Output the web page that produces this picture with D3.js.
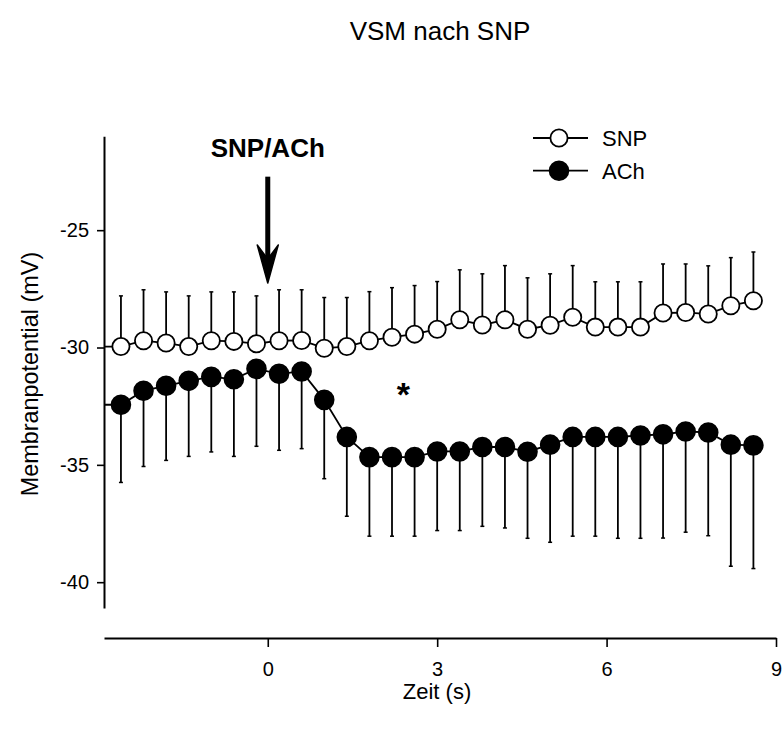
<!DOCTYPE html>
<html>
<head>
<meta charset="utf-8">
<script src="https://cdn.jsdelivr.net/npm/d3@7/dist/d3.min.js"></script>
<style>
  html, body { margin: 0; padding: 0; background: #fff; }
  svg { display: block; font-family: "Liberation Sans", Arial, sans-serif; }
</style>
</head>
<body>
<svg id="chart" width="782" height="729"></svg>
<script>
// Time points (s)
const zeit = [-2.6, -2.2, -1.8, -1.4, -1.0, -0.6, -0.2, 0.2, 0.6, 1.0, 1.4, 1.8, 2.2, 2.6, 3.0,
              3.4, 3.8, 4.2, 4.6, 5.0, 5.4, 5.8, 6.2, 6.6, 7.0, 7.4, 7.8, 8.2, 8.6];

// SNP: mean membrane potential (mV) and upper error limit
const snpMean = [-29.96, -29.71, -29.81, -29.96, -29.71, -29.74, -29.84, -29.71, -29.70, -30.03,
                 -29.96, -29.71, -29.56, -29.43, -29.22, -28.82, -29.04, -28.82, -29.22, -29.05,
                 -28.71, -29.13, -29.13, -29.13, -28.53, -28.51, -28.57, -28.22, -28.01];
const snpUpper = [-27.80, -27.54, -27.63, -27.80, -27.63, -27.63, -27.80, -27.54, -27.54, -27.87,
                  -27.87, -27.62, -27.45, -27.36, -27.19, -26.69, -26.86, -26.51, -27.03, -26.86,
                  -26.51, -27.20, -27.20, -27.20, -26.44, -26.44, -26.52, -26.17, -25.93];

// ACh: mean membrane potential (mV) and lower error limit
const achMean = [-32.44, -31.84, -31.63, -31.42, -31.25, -31.35, -30.91, -31.12, -31.02, -32.23,
                 -33.81, -34.67, -34.67, -34.67, -34.43, -34.43, -34.24, -34.24, -34.44, -34.14,
                 -33.81, -33.81, -33.81, -33.75, -33.70, -33.58, -33.62, -34.14, -34.17];
const achLower = [-35.75, -35.07, -34.81, -34.64, -34.45, -34.64, -34.21, -34.38, -34.31, -35.59,
                  -37.19, -38.04, -38.04, -38.04, -37.80, -37.80, -37.62, -37.69, -38.13, -38.30,
                  -38.04, -38.04, -38.13, -38.13, -38.12, -37.87, -38.02, -39.32, -39.42];

const xTicks = [0, 3, 6, 9];
const yTicks = [-25, -30, -35, -40];
const seriesNames = ["SNP", "ACh"];

const svg = d3.select("#chart");

const x = d3.scaleLinear().domain([-2.9, 9]).range([104, 776]);
const y = d3.scaleLinear().domain([-41.1, -21]).range([608, 136.3]);
const xAxisY = 638;

// Axes
const yAxis = svg.append("g")
  .attr("transform", `translate(${x.range()[0]},0)`)
  .call(d3.axisLeft(y).tickValues(yTicks).tickFormat(d => String(d))
    .tickSize(7).tickSizeOuter(0).tickPadding(8));
const xAxis = svg.append("g")
  .attr("transform", `translate(0,${xAxisY})`)
  .call(d3.axisBottom(x).tickValues(xTicks).tickFormat(d => String(d))
    .tickSize(9).tickSizeOuter(0).tickPadding(15));

[yAxis, xAxis].forEach(g => {
  g.select(".domain").attr("stroke", "#000").attr("stroke-width", 2);
  g.selectAll(".tick line").attr("stroke", "#000").attr("stroke-width", 1.6);
  g.selectAll(".tick text").attr("fill", "#000").style("font-size", "20px")
    .style("font-family", "'Liberation Sans', Arial, sans-serif");
});

// Titles
svg.append("text").attr("x", 440).attr("y", 40).attr("text-anchor", "middle")
  .style("font-size", "26px").text("VSM nach SNP");
svg.append("text").attr("x", 437).attr("y", 699).attr("text-anchor", "middle")
  .style("font-size", "22px").text("Zeit (s)");
svg.append("text").attr("transform", `translate(38,${374}) rotate(-90)`)
  .attr("text-anchor", "middle").style("font-size", "23.4px").text("Membranpotential (mV)");

const plot = svg.append("g");

const snp = zeit.map((t, i) => ({ t, m: snpMean[i], e: snpUpper[i] }));
const ach = zeit.map((t, i) => ({ t, m: achMean[i], e: achLower[i] }));

const line = d3.line().x(d => x(d.t)).y(d => y(d.m));

function drawSeries(data, filled, r) {
  const g = plot.append("g");
  // connecting line, starting at the left edge of the axis
  const lineData = [{ t: x.domain()[0], m: data[0].m }].concat(data);
  g.append("path").datum(lineData).attr("d", line)
    .attr("fill", "none").attr("stroke", "#000").attr("stroke-width", 1.8);
  // one-sided error bars
  g.selectAll("line.err").data(data).enter().append("line")
    .attr("x1", d => x(d.t)).attr("x2", d => x(d.t))
    .attr("y1", d => y(d.m)).attr("y2", d => y(d.e))
    .attr("stroke", "#000").attr("stroke-width", 1.8);
  g.selectAll("line.cap").data(data).enter().append("line")
    .attr("x1", d => x(d.t) - 2).attr("x2", d => x(d.t) + 2)
    .attr("y1", d => y(d.e)).attr("y2", d => y(d.e))
    .attr("stroke", "#000").attr("stroke-width", 1.5);
  g.selectAll("circle").data(data).enter().append("circle")
    .attr("cx", d => x(d.t)).attr("cy", d => y(d.m)).attr("r", r)
    .attr("fill", filled ? "#000" : "#fff").attr("stroke", "#000").attr("stroke-width", 1.8);
}

drawSeries(snp, false, 8.6);
drawSeries(ach, true, 9.4);

// Stimulus arrow at t = 0
const ax = x(0), aTop = y(-22.72), aTip = y(-27.25);
svg.append("line").attr("x1", ax).attr("x2", ax).attr("y1", aTop).attr("y2", aTip - 12)
  .attr("stroke", "#000").attr("stroke-width", 5);
svg.append("path")
  .attr("d", `M${ax},${aTip} L${ax - 10.5},${aTip - 38} L${ax},${aTip - 24} L${ax + 10.5},${aTip - 38} Z`)
  .attr("fill", "#000").attr("stroke", "#000").attr("stroke-width", 1.5).attr("stroke-linejoin", "round");
svg.append("text").attr("x", ax).attr("y", 157).attr("text-anchor", "middle")
  .style("font-size", "26px").style("font-weight", "bold").text("SNP/ACh");

// Significance marker
svg.append("text").attr("x", x(2.4)).attr("y", y(-32.5)).attr("text-anchor", "middle")
  .style("font-size", "34px").style("font-weight", "bold").text("*");

// Legend
const legend = svg.append("g");
seriesNames.forEach((name, i) => {
  const ly = 138 + i * 32.7;
  legend.append("line").attr("x1", 533).attr("x2", 588).attr("y1", ly).attr("y2", ly)
    .attr("stroke", "#000").attr("stroke-width", 1.8);
  legend.append("circle").attr("cx", 559).attr("cy", ly).attr("r", i === 0 ? 8.6 : 9.4)
    .attr("fill", i === 0 ? "#fff" : "#000").attr("stroke", "#000").attr("stroke-width", 1.8);
  legend.append("text").attr("x", 602).attr("y", ly + 8).style("font-size", "22px").text(name);
});
</script>
</body>
</html>
